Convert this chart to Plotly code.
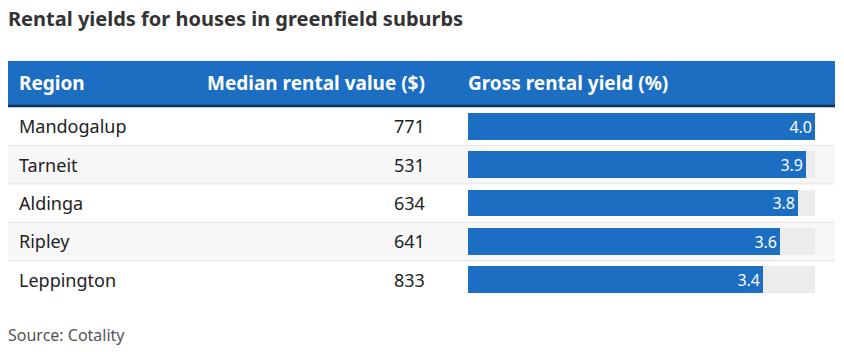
import plotly.graph_objects as go

W, H = 844, 352

title = "Rental yields for houses in greenfield suburbs"
headers = ["Region", "Median rental value ($)", "Gross rental yield (%)"]
regions = ["Mandogalup", "Tarneit", "Aldinga", "Ripley", "Leppington"]
median_rent = [771, 531, 634, 641, 833]
gross_yield = [4.0, 3.9, 3.8, 3.6, 3.4]
source = "Source: Cotality"

BLUE = "#1b6ec2"
FONT = "Noto Sans"

def px(x):
    return x / W

def py(y):
    return 1 - y / H

fig = go.Figure()

# background track
fig.add_trace(go.Bar(
    y=regions, x=[max(gross_yield)] * len(regions), orientation="h",
    marker=dict(color="#ececec", line=dict(width=0)), width=0.7,
    hoverinfo="skip", showlegend=False,
))
# value bars
fig.add_trace(go.Bar(
    y=regions, x=gross_yield, orientation="h",
    marker=dict(color=BLUE, line=dict(width=0)), width=0.7,
    text=[f"{v:.1f}" for v in gross_yield], textposition="inside",
    insidetextanchor="end", textangle=0,
    textfont=dict(family=FONT, size=16, color="white"),
    cliponaxis=False, showlegend=False,
))

shapes = []
# header band
shapes.append(dict(type="rect", xref="paper", yref="paper",
                   x0=px(8), x1=px(835), y0=py(105), y1=py(61),
                   fillcolor=BLUE, line=dict(width=0), layer="below"))
shapes.append(dict(type="line", xref="paper", yref="paper",
                   x0=px(8), x1=px(835), y0=py(106), y1=py(106),
                   line=dict(color="#0f2f55", width=2.5)))
# row backgrounds and separators
for i, r in enumerate(regions):
    if i % 2 == 1:
        shapes.append(dict(type="rect", xref="paper", yref="y",
                           x0=px(8), x1=px(835), y0=i - 0.5, y1=i + 0.5,
                           fillcolor="#f7f7f7", line=dict(width=0), layer="below"))
    if i > 0:
        shapes.append(dict(type="line", xref="paper", yref="y",
                           x0=px(8), x1=px(835), y0=i - 0.5, y1=i - 0.5,
                           line=dict(color="#e4e4e4", width=1), layer="below"))

annotations = []
annotations.append(dict(text=f"<b>{title}</b>", xref="paper", yref="paper",
                        x=px(6), y=py(19), xanchor="left", yanchor="middle",
                        showarrow=False, font=dict(family=FONT, size=20, color="#333333")))
# header texts
annotations.append(dict(text=f"<b>{headers[0]}</b>", xref="paper", yref="paper",
                        x=px(17), y=py(83), xanchor="left", yanchor="middle",
                        showarrow=False, font=dict(family=FONT, size=19, color="white")))
annotations.append(dict(text=f"<b>{headers[1]}</b>", xref="paper", yref="paper",
                        x=px(427), y=py(83), xanchor="right", yanchor="middle",
                        showarrow=False, font=dict(family=FONT, size=19, color="white")))
annotations.append(dict(text=f"<b>{headers[2]}</b>", xref="paper", yref="paper",
                        x=px(466), y=py(83), xanchor="left", yanchor="middle",
                        showarrow=False, font=dict(family=FONT, size=19, color="white")))
for r, m in zip(regions, median_rent):
    annotations.append(dict(text=r, xref="paper", yref="y", x=px(17), y=r,
                            xanchor="left", yanchor="middle", showarrow=False,
                            font=dict(family=FONT, size=18, color="#222222")))
    annotations.append(dict(text=str(m), xref="paper", yref="y", x=px(427), y=r,
                            xanchor="right", yanchor="middle", showarrow=False,
                            font=dict(family=FONT, size=18, color="#222222")))
annotations.append(dict(text=source, xref="paper", yref="paper",
                        x=px(6), y=py(335), xanchor="left", yanchor="middle",
                        showarrow=False, font=dict(family=FONT, size=16, color="#555555")))

fig.update_layout(
    width=W, height=H,
    margin=dict(l=0, r=0, t=0, b=0),
    paper_bgcolor="white", plot_bgcolor="rgba(0,0,0,0)",
    barmode="overlay", bargap=0,
    xaxis=dict(domain=[px(468), px(815)], range=[0, max(gross_yield)],
               visible=False, fixedrange=True),
    yaxis=dict(domain=[py(299), py(107)], range=[len(regions) - 0.5, -0.5],
               visible=False, fixedrange=True, type="category",
               categoryorder="array", categoryarray=regions),
    shapes=shapes, annotations=annotations,
    uniformtext=dict(minsize=16, mode="show"),
)

fig.write_html("out.html")
